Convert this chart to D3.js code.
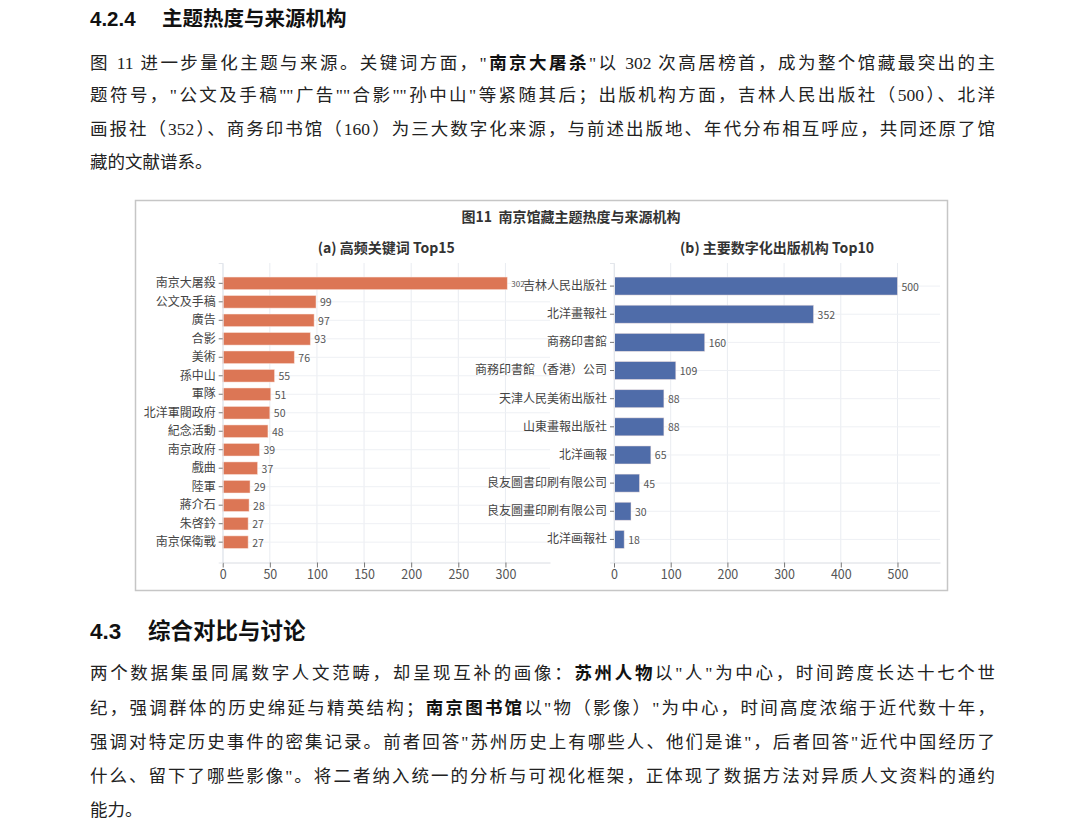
<!DOCTYPE html>
<html lang="zh-CN">
<head>
<meta charset="utf-8">
<script src="https://cdn.jsdelivr.net/npm/d3@7"></script>
<style>
html, body { margin: 0; background: #fff; }
#page { position: relative; width: 1080px; height: 834px; overflow: hidden; }
#page svg { position: absolute; left: 0; top: 0; }
.h { position: absolute; font-family: "Liberation Sans", "Noto Sans CJK SC", sans-serif; font-weight: 700; color: #111; white-space: nowrap; line-height: 26px; }
.ln { position: absolute; left: 90px; font-family: "Liberation Serif", "Noto Sans CJK SC", serif; font-size: 17.5px; line-height: 20px; height: 20px; color: #222; white-space: nowrap; }
.ln.full { width: 905px; white-space: normal; text-align: justify; text-align-last: justify; }
.ln b { font-family: "Noto Sans CJK SC", sans-serif; font-weight: 700; color: #111; }
</style>
</head>
<body>
<div id="page"></div>
<script>
// ---- chart data ----
const keywords = ['南京大屠殺', '公文及手稿', '廣告', '合影', '美術', '孫中山', '軍隊', '北洋軍閥政府',
  '紀念活動', '南京政府', '戲曲', '陸軍', '蔣介石', '朱啓鈐', '南京保衛戰']
const keywordCounts = [302, 99, 97, 93, 76, 55, 51, 50, 48, 39, 37, 29, 28, 27, 27]

const publishers = ['吉林人民出版社', '北洋畫報社', '商務印書館', '商務印書館（香港）公司', '天津人民美術出版社',
  '山東畫報出版社', '北洋画報', '良友圖書印刷有限公司', '良友圖畫印刷有限公司', '北洋画報社']
const publisherCounts = [500, 352, 160, 109, 88, 88, 65, 45, 30, 18]

const keywordTicks = [0, 50, 100, 150, 200, 250, 300]
const publisherTicks = [0, 100, 200, 300, 400, 500]

const figTitle = '图11  南京馆藏主题热度与来源机构'
const titleA = '(a) 高频关键词 Top15'
const titleB = '(b) 主要数字化出版机构 Top10'

// ---- page text ----
const para1 = [
  '图 11 进一步量化主题与来源。关键词方面，"**南京大屠杀**"以 302 次高居榜首，成为整个馆藏最突出的主',
  '题符号，"公文及手稿""广告""合影""孙中山"等紧随其后；出版机构方面，吉林人民出版社（500）、北洋',
  '画报社（352）、商务印书馆（160）为三大数字化来源，与前述出版地、年代分布相互呼应，共同还原了馆',
  '藏的文献谱系。'
]
const para1Y = [62, 95, 128.5, 162]

const para2 = [
  '两个数据集虽同属数字人文范畴，却呈现互补的画像：**苏州人物**以"人"为中心，时间跨度长达十七个世',
  '纪，强调群体的历史绵延与精英结构；**南京图书馆**以"物（影像）"为中心，时间高度浓缩于近代数十年，',
  '强调对特定历史事件的密集记录。前者回答"苏州历史上有哪些人、他们是谁"，后者回答"近代中国经历了',
  '什么、留下了哪些影像"。将二者纳入统一的分析与可视化框架，正体现了数据方法对异质人文资料的通约',
  '能力。'
]
const para2Y = [672, 707, 742, 776, 810]

const page = d3.select('#page')
const svg = page.append('svg').attr('width', 1080).attr('height', 834)

// headings
function heading(num, text, cy, size, textX) {
  page.append('div').attr('class', 'h')
    .style('left', '90px').style('top', (cy - 13) + 'px').style('font-size', size + 'px').text(num)
  page.append('div').attr('class', 'h')
    .style('left', textX + 'px').style('top', (cy - 13) + 'px').style('font-size', size + 'px').text(text)
}

function paragraph(lines, ys) {
  lines.forEach((line, i) => {
    const div = page.append('div')
      .attr('class', i < lines.length - 1 ? 'ln full' : 'ln')
      .style('top', (ys[i] - 10) + 'px')
    line.split('**').forEach((part, k) => {
      if (k % 2) div.append('b').text(part)
      else div.append('span').text(part)
    })
  })
}

heading('4.2.4', '主题热度与来源机构', 19, 20.5, 162)
paragraph(para1, para1Y)
heading('4.3', '综合对比与讨论', 632, 22.5, 148)
paragraph(para2, para2Y)

// ---- figure ----
const fig = svg.append('g')
fig.append('rect')
  .attr('x', 135.5).attr('y', 200.5).attr('width', 812).attr('height', 390)
  .attr('fill', '#fff').attr('stroke', '#c6c6c6').attr('stroke-width', 1.5)

fig.append('text')
  .attr('x', 571).attr('y', 216).attr('text-anchor', 'middle').attr('dominant-baseline', 'central')
  .attr('font-family', '"Noto Sans CJK SC", sans-serif').attr('font-weight', 700)
  .attr('font-size', 14).attr('fill', '#333').attr('xml:space', 'preserve')
  .text(figTitle)

const chartFont = '"Noto Sans CJK SC", "Open Sans", sans-serif'

function drawPanel(opt) {
  const g = fig.append('g')
  const x = d3.scaleLinear()
    .domain([0, d3.max(opt.values) * 1.15])
    .range(opt.xRange)
  const y = d3.scaleBand()
    .domain(d3.range(opt.labels.length))
    .range([opt.top, opt.bottom])
    .paddingInner(opt.padInner)
    .paddingOuter(opt.padOuter)

  // grid
  g.append('g').selectAll('line.v')
    .data(opt.ticks)
    .join('line')
    .attr('x1', d => x(d)).attr('x2', d => x(d))
    .attr('y1', opt.top).attr('y2', opt.bottom)
    .attr('stroke', '#e9ecf1').attr('stroke-width', 1)
  g.append('g').selectAll('line.h')
    .data(d3.range(opt.labels.length))
    .join('line')
    .attr('x1', opt.xRange[0]).attr('x2', opt.xRange[1])
    .attr('y1', d => y(d) + y.bandwidth() / 2).attr('y2', d => y(d) + y.bandwidth() / 2)
    .attr('stroke', '#eef0f4').attr('stroke-width', 1)

  // bars
  g.append('g').selectAll('rect')
    .data(opt.values)
    .join('rect')
    .attr('x', x(0))
    .attr('y', (d, i) => y(i))
    .attr('width', d => x(d) - x(0))
    .attr('height', y.bandwidth())
    .attr('fill', opt.color)
    .attr('stroke', '#fbe9e2').attr('stroke-opacity', 0.6).attr('stroke-width', 0.8)

  // value labels, shrunk when they run into the space beyond labelLimit
  g.append('g').selectAll('text')
    .data(opt.values)
    .join('text')
    .attr('x', d => x(d) + 4)
    .attr('y', (d, i) => y(i) + y.bandwidth() / 2)
    .attr('dominant-baseline', 'central')
    .attr('font-family', chartFont).attr('fill', '#555')
    .attr('font-size', d => x(d) + 4 + String(d).length * 6 > opt.labelLimit ? 8 : 10.5)
    .text(d => d)

  // x axis
  const xAxis = g.append('g')
    .attr('transform', `translate(0,${opt.bottom})`)
    .call(d3.axisBottom(x).tickValues(opt.ticks).tickSize(5).tickSizeOuter(0).tickPadding(3))
  xAxis.select('.domain').attr('stroke', '#d9dce2')
  xAxis.selectAll('.tick line').attr('stroke', '#777')
  xAxis.selectAll('.tick text')
    .attr('font-family', chartFont).attr('font-size', 12.5).attr('fill', '#555')

  // y axis
  const yAxis = g.append('g')
    .attr('transform', `translate(${opt.xRange[0]},0)`)
    .call(d3.axisLeft(y).tickFormat(i => opt.labels[i]).tickSize(4).tickPadding(3))
  yAxis.select('.domain').attr('stroke', '#e3e6eb')
  yAxis.selectAll('.tick line').attr('stroke', '#777')
  yAxis.selectAll('.tick text')
    .attr('font-family', chartFont).attr('font-size', 12).attr('fill', '#444')

  // subtitle
  g.append('text')
    .attr('x', (opt.xRange[0] + opt.xRange[1]) / 2).attr('y', 246.5)
    .attr('text-anchor', 'middle').attr('dominant-baseline', 'central')
    .attr('font-family', chartFont).attr('font-weight', 700)
    .attr('font-size', 14).attr('fill', '#333')
    .text(opt.title)
}

drawPanel({
  labels: keywords, values: keywordCounts, ticks: keywordTicks, title: titleA,
  color: '#dc7655', xRange: [222.7, 550], top: 263, bottom: 562.5,
  padInner: 0.32, padOuter: 0.76, labelLimit: 525
})
drawPanel({
  labels: publishers, values: publisherCounts, ticks: publisherTicks, title: titleB,
  color: '#4f6ca9', xRange: [614, 940], top: 263, bottom: 562.5,
  padInner: 0.36, padOuter: 0.5, labelLimit: 960
})
</script>
</body>
</html>
